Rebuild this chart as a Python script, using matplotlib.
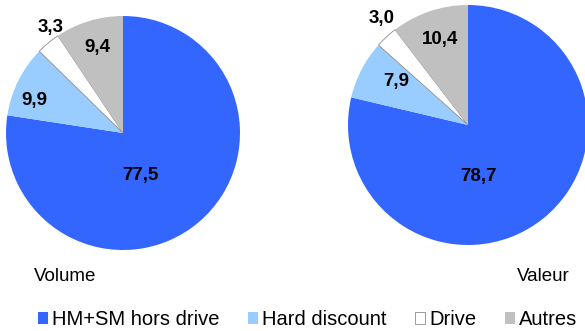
import numpy as np
import matplotlib
matplotlib.use('Agg')
import matplotlib.pyplot as plt
from matplotlib.patches import Patch

plt.rcParams['font.family'] = ['Liberation Sans', 'DejaVu Sans']

categories = ['HM+SM hors drive', 'Hard discount', 'Drive', 'Autres']
volume = [77.5, 9.9, 3.3, 9.4]
valeur = [78.7, 7.9, 3.0, 10.4]
colors = ['#3366FF', '#99CCFF', '#FFFFFF', '#C0C0C0']

W, H = 585, 331
fig = plt.figure(figsize=(W / 100, H / 100), dpi=100)
ax = fig.add_axes([0, 0, 1, 1])

# pie layout in pixels (y measured from top), label offsets in radius units
pies = [
    dict(values=volume, cx=123, cy=133, r=117, title='Volume', tx=34,
         offs=[(0.145, -0.36), (-0.76, 0.28), (-0.62, 0.90), (-0.22, 0.735)]),
    dict(values=valeur, cx=468, cy=125, r=120, title='Valeur', tx=517,
         offs=[(0.09, -0.43), (-0.60, 0.36), (-0.72, 0.89), (-0.23, 0.71)]),
]

for p in pies:
    cx, cy = p['cx'], H - p['cy']
    wedges, _ = ax.pie(p['values'], colors=colors, startangle=90, counterclock=False,
                       center=(cx, cy), radius=p['r'],
                       wedgeprops=dict(linewidth=0, edgecolor='none'))
    wedges[2].set_edgecolor('#8c8c8c')
    wedges[2].set_linewidth(0.6)
    for v, (dx, dy) in zip(p['values'], p['offs']):
        ax.text(cx + dx * p['r'], cy + dy * p['r'], f'{v:.1f}'.replace('.', ','),
                ha='center', va='center', fontsize=13.5, fontweight='bold')
    ax.text(p['tx'], H - 281, p['title'], ha='left', va='baseline', fontsize=13.5)

ax.set_xlim(0, W)
ax.set_ylim(0, H)
ax.set_aspect('auto')
ax.axis('off')

handles = [Patch(facecolor=c, edgecolor=('#8c8c8c' if c == '#FFFFFF' else 'none'),
                 linewidth=0.6) for c in colors]
fig.legend(handles, categories, ncol=4, frameon=False, fontsize=14.5,
           loc='center left', bbox_to_anchor=(38 / W, 11.5 / H),
           borderpad=0, borderaxespad=0, handlelength=0.5, handleheight=0.5,
           handletextpad=0.2, columnspacing=1.42)

fig.savefig('out.png', dpi=100)
